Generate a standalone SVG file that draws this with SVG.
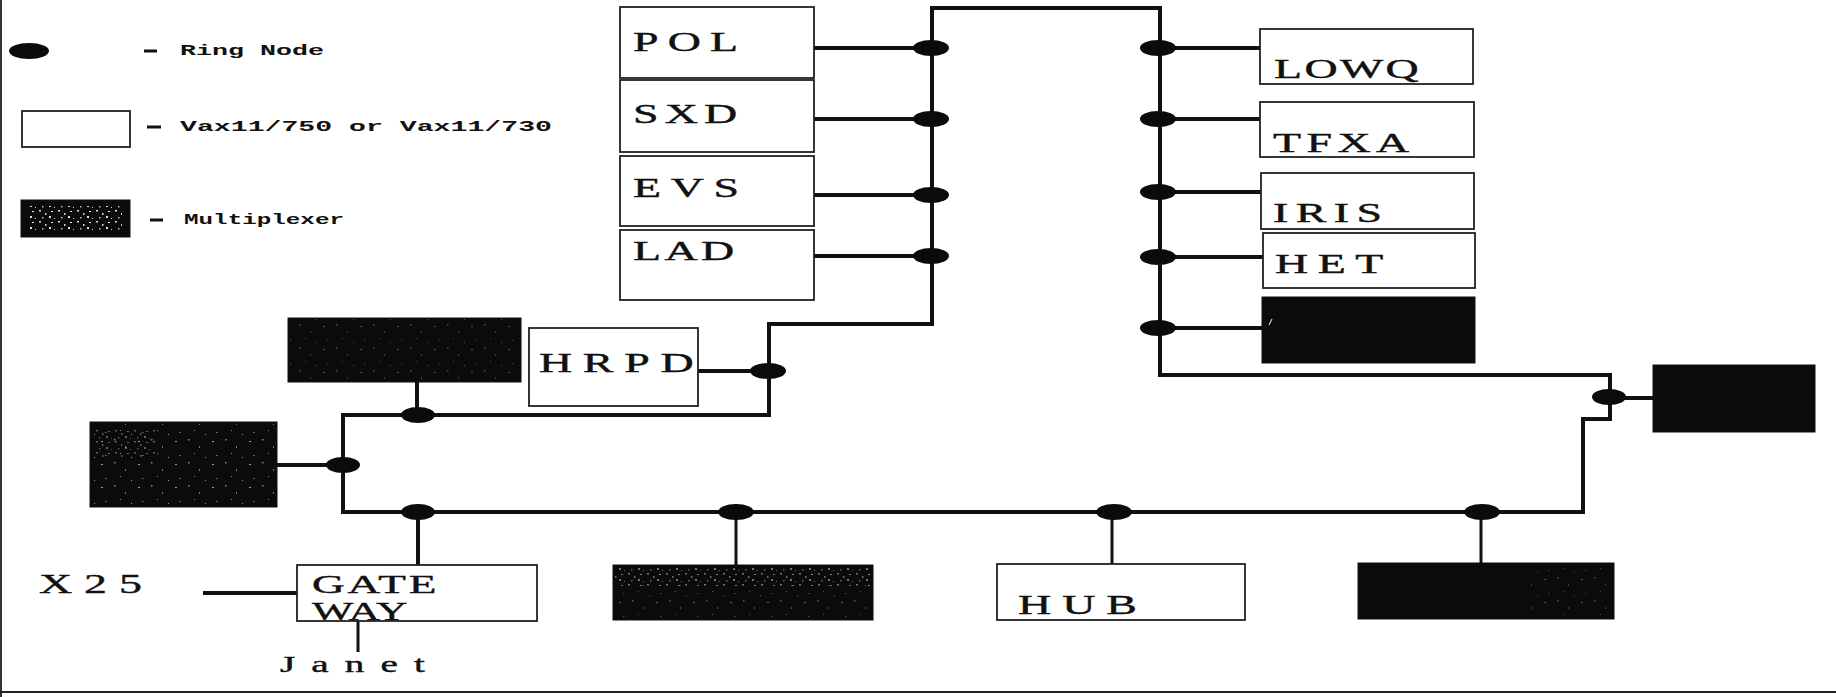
<svg xmlns="http://www.w3.org/2000/svg" width="1836" height="697" viewBox="0 0 1836 697">
<style>
.ring{fill:none;stroke:#111;stroke-width:4;stroke-linejoin:miter}
.stub{fill:none;stroke:#111;stroke-width:4}
.thin{fill:none;stroke:#111;stroke-width:3}
.vax{fill:#fff;stroke:#222;stroke-width:1.8}
.mux{fill:#0b0b0b;stroke:#111;stroke-width:1}
.node{fill:#0b0b0b}
.lbl{font-family:"Liberation Serif","DejaVu Serif",serif;font-size:27px;fill:#111;stroke:#111;stroke-width:0.4}
.leg{font-family:"Liberation Mono","DejaVu Sans Mono",monospace;font-weight:bold;font-size:15px;fill:#111}
</style>
<defs>
<pattern id="speck" width="37" height="23" patternUnits="userSpaceOnUse">
<rect x="3" y="2" width="1.5" height="1.5" fill="#8a8a8a"/>
<rect x="14" y="9" width="1" height="2" fill="#777"/>
<rect x="27" y="4" width="2" height="1" fill="#999"/>
<rect x="9" y="16" width="1" height="1" fill="#888"/>
<rect x="31" y="18" width="1.5" height="1" fill="#777"/>
<rect x="20" y="20" width="1" height="1" fill="#999"/>
</pattern>
<pattern id="speckDense" width="19" height="11" patternUnits="userSpaceOnUse">
<rect x="1" y="1" width="2" height="1.5" fill="#ddd"/>
<rect x="7" y="4" width="1.5" height="2" fill="#ccc"/>
<rect x="13" y="2" width="2" height="1" fill="#eee"/>
<rect x="4" y="8" width="1.5" height="1.5" fill="#bbb"/>
<rect x="11" y="7" width="2" height="2" fill="#ddd"/>
<rect x="16" y="9" width="1" height="1" fill="#ccc"/>
</pattern>
</defs>

<!-- frame lines -->
<g id="frame">
<line x1="1" y1="0" x2="1" y2="697" stroke="#333" stroke-width="2"/>
<line x1="0" y1="692" x2="1836" y2="692" stroke="#222" stroke-width="2"/>
</g>

<!-- legend -->
<g id="legend">
<ellipse cx="29" cy="51" rx="20" ry="8" class="node"/>
<line x1="144" y1="51" x2="157" y2="51" stroke="#111" stroke-width="3"/>
<text x="180" y="55" class="leg" textLength="144" lengthAdjust="spacingAndGlyphs">Ring Node</text>
<rect x="22" y="111" width="108" height="36" class="vax"/>
<line x1="147" y1="127" x2="161" y2="127" stroke="#111" stroke-width="3"/>
<text x="180" y="131" class="leg" textLength="372" lengthAdjust="spacingAndGlyphs">Vax11/750 or Vax11/730</text>
<rect x="21" y="200" width="109" height="37" class="mux"/>
<rect x="30" y="206" width="92" height="24" fill="url(#speckDense)"/>
<line x1="150" y1="220" x2="163" y2="220" stroke="#111" stroke-width="3"/>
<text x="184" y="224" class="leg" textLength="160" lengthAdjust="spacingAndGlyphs">Multiplexer</text>
</g>

<!-- connectors -->
<g id="connectors">
<path class="ring" d="M932,324 V8 H1160 V375 H1610 V419 H1583 V512 H343 V415 H769 V324 Z"/>
<line class="stub" x1="814" y1="48" x2="931" y2="48"/>
<line class="stub" x1="814" y1="119" x2="931" y2="119"/>
<line class="stub" x1="814" y1="195" x2="931" y2="195"/>
<line class="stub" x1="814" y1="256" x2="931" y2="256"/>
<line class="stub" x1="1158" y1="48" x2="1260" y2="48"/>
<line class="stub" x1="1158" y1="119" x2="1260" y2="119"/>
<line class="stub" x1="1158" y1="192" x2="1261" y2="192"/>
<line class="stub" x1="1158" y1="257" x2="1263" y2="257"/>
<line class="stub" x1="1158" y1="328" x2="1262" y2="328"/>
<line class="stub" x1="698" y1="371" x2="768" y2="371"/>
<line class="stub" x1="417" y1="382" x2="417" y2="415"/>
<line class="stub" x1="277" y1="465" x2="343" y2="465"/>
<line class="stub" x1="418" y1="512" x2="418" y2="565"/>
<line class="thin" x1="736" y1="512" x2="736" y2="565"/>
<line class="thin" x1="1112" y1="512" x2="1112" y2="564"/>
<line class="thin" x1="1481" y1="512" x2="1481" y2="563"/>
<line class="stub" x1="1609" y1="398" x2="1653" y2="398"/>
<line class="stub" x1="203" y1="593" x2="297" y2="593"/>
<line class="thin" x1="358" y1="620" x2="358" y2="652"/>
</g>

<!-- ring nodes -->
<g id="ring-nodes">
<ellipse cx="931" cy="48" rx="18" ry="8" class="node"/>
<ellipse cx="931" cy="119" rx="18" ry="8" class="node"/>
<ellipse cx="931" cy="195" rx="18" ry="8" class="node"/>
<ellipse cx="931" cy="256" rx="18" ry="8" class="node"/>
<ellipse cx="1158" cy="48" rx="18" ry="8" class="node"/>
<ellipse cx="1158" cy="119" rx="18" ry="8" class="node"/>
<ellipse cx="1158" cy="192" rx="18" ry="8" class="node"/>
<ellipse cx="1158" cy="257" rx="18" ry="8" class="node"/>
<ellipse cx="1158" cy="328" rx="18" ry="8" class="node"/>
<ellipse cx="768" cy="371" rx="18" ry="8" class="node"/>
<ellipse cx="418" cy="415" rx="17" ry="8" class="node"/>
<ellipse cx="343" cy="465" rx="17" ry="8" class="node"/>
<ellipse cx="418" cy="512" rx="17" ry="8" class="node"/>
<ellipse cx="736" cy="512" rx="18" ry="8" class="node"/>
<ellipse cx="1114" cy="512" rx="18" ry="8" class="node"/>
<ellipse cx="1482" cy="512" rx="18" ry="8" class="node"/>
<ellipse cx="1609" cy="397" rx="17" ry="8" class="node"/>
</g>

<!-- Vax nodes -->
<g id="POL"><rect x="620" y="7" width="194" height="71" class="vax"/><g transform="translate(633,51) scale(1.7,1)"><text class="lbl" style="letter-spacing:5.4px">POL</text></g></g>
<g id="SXD"><rect x="620" y="80" width="194" height="72" class="vax"/><g transform="translate(633,123) scale(1.7,1)"><text class="lbl" style="letter-spacing:3.6px">SXD</text></g></g>
<g id="EVS"><rect x="620" y="156" width="194" height="70" class="vax"/><g transform="translate(633,197) scale(1.7,1)"><text class="lbl" style="letter-spacing:5.7px">EVS</text></g></g>
<g id="LAD"><rect x="620" y="230" width="194" height="70" class="vax"/><g transform="translate(633,260) scale(1.7,1)"><text class="lbl" style="letter-spacing:2px">LAD</text></g></g>

<g id="LOWQ"><rect x="1260" y="29" width="213" height="55" class="vax"/><g transform="translate(1274,78) scale(1.7,1)"><text class="lbl" style="letter-spacing:1.4px">LOWQ</text></g></g>
<g id="TFXA"><rect x="1260" y="102" width="214" height="55" class="vax"/><g transform="translate(1273,152) scale(1.7,1)"><text class="lbl" style="letter-spacing:3.2px">TFXA</text></g></g>
<g id="IRIS"><rect x="1261" y="173" width="213" height="56" class="vax"/><g transform="translate(1273,222) scale(1.7,1)"><text class="lbl" style="letter-spacing:4.4px">IRIS</text></g></g>
<g id="HET"><rect x="1263" y="233" width="212" height="55" class="vax"/><g transform="translate(1275,273) scale(1.7,1)"><text class="lbl" style="letter-spacing:5.6px">HET</text></g></g>
<g id="mux-right-ring"><rect x="1262" y="297" width="213" height="66" class="mux"/><line x1="1269" y1="325" x2="1272" y2="319" stroke="#ccc" stroke-width="1.2"/></g>

<g id="HRPD"><rect x="529" y="328" width="169" height="78" class="vax"/><g transform="translate(539,372) scale(1.7,1)"><text class="lbl" style="letter-spacing:6.3px">HRPD</text></g></g>
<g id="mux-upper-left"><rect x="288" y="318" width="233" height="64" class="mux"/><rect x="288" y="318" width="233" height="64" fill="url(#speck)" opacity="0.5"/></g>
<g id="mux-left"><rect x="90" y="422" width="187" height="85" class="mux"/><rect x="92" y="424" width="183" height="81" fill="url(#speck)"/><rect x="95" y="428" width="60" height="30" fill="url(#speckDense)" opacity="0.4"/></g>

<g id="GATEWAY"><rect x="297" y="565" width="240" height="56" class="vax"/><g transform="translate(312,593) scale(1.74,1)"><text class="lbl" style="font-size:26px;letter-spacing:1.7px">GATE</text></g><g transform="translate(312,620) scale(1.68,1)"><text class="lbl" style="font-size:26px;letter-spacing:0px">WAY</text></g></g>
<g id="X25"><g transform="translate(39,593) scale(1.7,1)"><text class="lbl" style="letter-spacing:7px">X25</text></g></g>
<g id="Janet"><g transform="translate(280,672) scale(1.7,1)"><text class="lbl" style="font-size:23px;letter-spacing:9.5px">Janet</text></g></g>

<g id="mux-bottom-mid"><rect x="613" y="565" width="260" height="55" class="mux"/><rect x="615" y="567" width="256" height="20" fill="url(#speckDense)" opacity="0.5"/><rect x="615" y="585" width="256" height="33" fill="url(#speck)" opacity="0.6"/></g>
<g id="HUB"><rect x="997" y="564" width="248" height="56" class="vax"/><g transform="translate(1018,614) scale(1.7,1)"><text class="lbl" style="letter-spacing:6.5px">HUB</text></g></g>
<g id="mux-bottom-right"><rect x="1358" y="563" width="256" height="56" class="mux"/><rect x="1530" y="566" width="80" height="50" fill="url(#speck)" opacity="0.5"/></g>
<g id="mux-top-right"><rect x="1653" y="365" width="162" height="67" class="mux"/></g>
</svg>
